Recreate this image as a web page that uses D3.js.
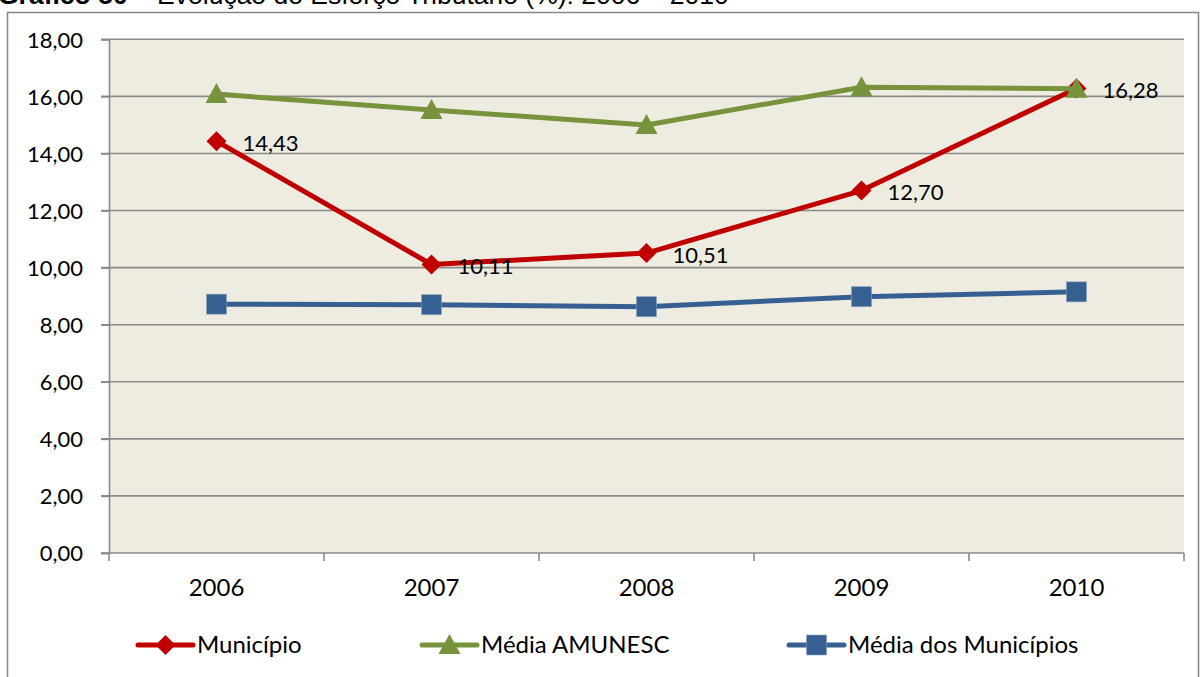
<!DOCTYPE html>
<html><head><meta charset="utf-8">
<script src="https://cdn.jsdelivr.net/npm/d3@7"></script>
<style>body{margin:0;background:#fff;}svg{display:block;}</style>
</head><body>
<script>
const categories = ["2006","2007","2008","2009","2010"];
const municipio = [14.43, 10.11, 10.51, 12.70, 16.28];
const mediaAmunesc = [16.08, 15.52, 15.00, 16.32, 16.27];
const mediaMunicipios = [8.72, 8.70, 8.63, 8.98, 9.15];
const yTicks = [0,2,4,6,8,10,12,14,16,18];
const seriesNames = ["Município","Média AMUNESC","Média dos Municípios"];

const W=1202,H=677;
const svg=d3.select("body").append("svg").attr("width",W).attr("height",H);
const font="Lato, 'Open Sans', sans-serif";

// title (cut off at top, as in the reference)
const t=svg.append("text").attr("x",-2).attr("y",4).attr("font-family","Arial, 'Liberation Sans', sans-serif").attr("font-size",26.5).attr("fill","#000");
t.append("tspan").attr("font-weight","bold").text("Gráfico 50");
t.append("tspan").text(" – Evolução do Esforço Tributário (%): 2006 – 2010");

// outer border
svg.append("rect").attr("x",7.5).attr("y",12.5).attr("width",1191).attr("height",700).attr("fill","#fff").attr("stroke","#868686").attr("stroke-width",1.5);

const x0=109,x1=1184,yTop=39.3,yBot=553;
const x=d3.scaleBand().domain(categories).range([x0,x1]).padding(0);
const y=d3.scaleLinear().domain([0,18]).range([yBot,yTop]);

svg.append("rect").attr("x",x0).attr("y",yTop).attr("width",x1-x0).attr("height",yBot-yTop).attr("fill","#EEECE1");

// gridlines
svg.append("g").selectAll("line").data(yTicks.filter(d=>d>0)).join("line")
 .attr("x1",x0-8).attr("x2",x1).attr("y1",d=>y(d)).attr("y2",d=>y(d))
 .attr("stroke","#8a8a8a").attr("stroke-width",1.6);

// y axis
const yAxis=d3.axisLeft(y).tickValues(yTicks).tickSize(8).tickFormat(d=>d3.format(".2f")(d).replace(".",","));
const ya=svg.append("g").attr("transform",`translate(${x0},0)`).call(yAxis);
ya.select(".domain").attr("stroke","#8a8a8a").attr("stroke-width",1.6);
ya.selectAll(".tick line").attr("stroke","#8a8a8a").attr("stroke-width",1.6);
ya.selectAll(".tick text").attr("font-family",font).attr("font-size",22).attr("fill","#000").attr("x",-26).attr("dy","0.35em");

// x axis
const xa=svg.append("g").attr("transform",`translate(0,${yBot})`);
xa.append("line").attr("x1",x0-8).attr("x2",x1).attr("stroke","#8a8a8a").attr("stroke-width",1.6);
const bounds=categories.map(c=>x(c)).concat([x1]);
xa.selectAll("line.tk").data(bounds).join("line").attr("class","tk")
 .attr("x1",d=>d).attr("x2",d=>d).attr("y1",0).attr("y2",8).attr("stroke","#8a8a8a").attr("stroke-width",1.6);
xa.selectAll("text").data(categories).join("text")
 .attr("x",d=>x(d)+x.bandwidth()/2).attr("y",43).attr("text-anchor","middle")
 .attr("font-family",font).attr("font-size",24).attr("fill","#000").text(d=>d);

const cx=c=>x(c)+x.bandwidth()/2;
const line=d3.line().x((d,i)=>cx(categories[i])).y(d=>y(d));

const colors=["#C00000","#77933C","#376092"];
const data=[municipio,mediaAmunesc,mediaMunicipios];

function marker(g,type,color,px,py){
  if(type===0){
    g.append("path").attr("d",`M${px},${py-10}L${px+10},${py}L${px},${py+10}L${px-10},${py}Z`).attr("fill",color);
  } else if(type===1){
    g.append("path").attr("d",`M${px},${py-11}L${px+11},${py+9}L${px-11},${py+9}Z`).attr("fill",color);
  } else {
    g.append("rect").attr("x",px-10).attr("y",py-10).attr("width",20).attr("height",20).attr("fill",color).attr("stroke","#8aa0bc").attr("stroke-width",0.6);
  }
}

data.forEach((vals,si)=>{
  const g=svg.append("g");
  g.append("path").datum(vals).attr("d",line).attr("fill","none").attr("stroke",colors[si]).attr("stroke-width",5).attr("stroke-linejoin","round");
  vals.forEach((v,i)=>marker(g,si,colors[si],cx(categories[i]),y(v)));
});

// data labels for Município
svg.append("g").selectAll("text").data(municipio).join("text")
 .attr("x",(d,i)=>cx(categories[i])+26).attr("y",(d,i)=>y(d)+2).attr("dy","0.35em")
 .attr("font-family",font).attr("font-size",22).attr("fill","#000")
 .text(d=>d3.format(".2f")(d).replace(".",","));

// legend
const legX=[138,422,789];
const lg=svg.append("g");
seriesNames.forEach((n,i)=>{
  const lx=legX[i], ly=645;
  lg.append("line").attr("x1",lx).attr("x2",lx+55).attr("y1",ly).attr("y2",ly).attr("stroke",colors[i]).attr("stroke-width",5).attr("stroke-linecap","round");
  marker(lg,i,colors[i],lx+27.5,ly);
  lg.append("text").attr("x",lx+59).attr("y",ly).attr("dy","0.35em").attr("font-family",font).attr("font-size",24).attr("fill","#000").text(n);
});
</script>
</body></html>
